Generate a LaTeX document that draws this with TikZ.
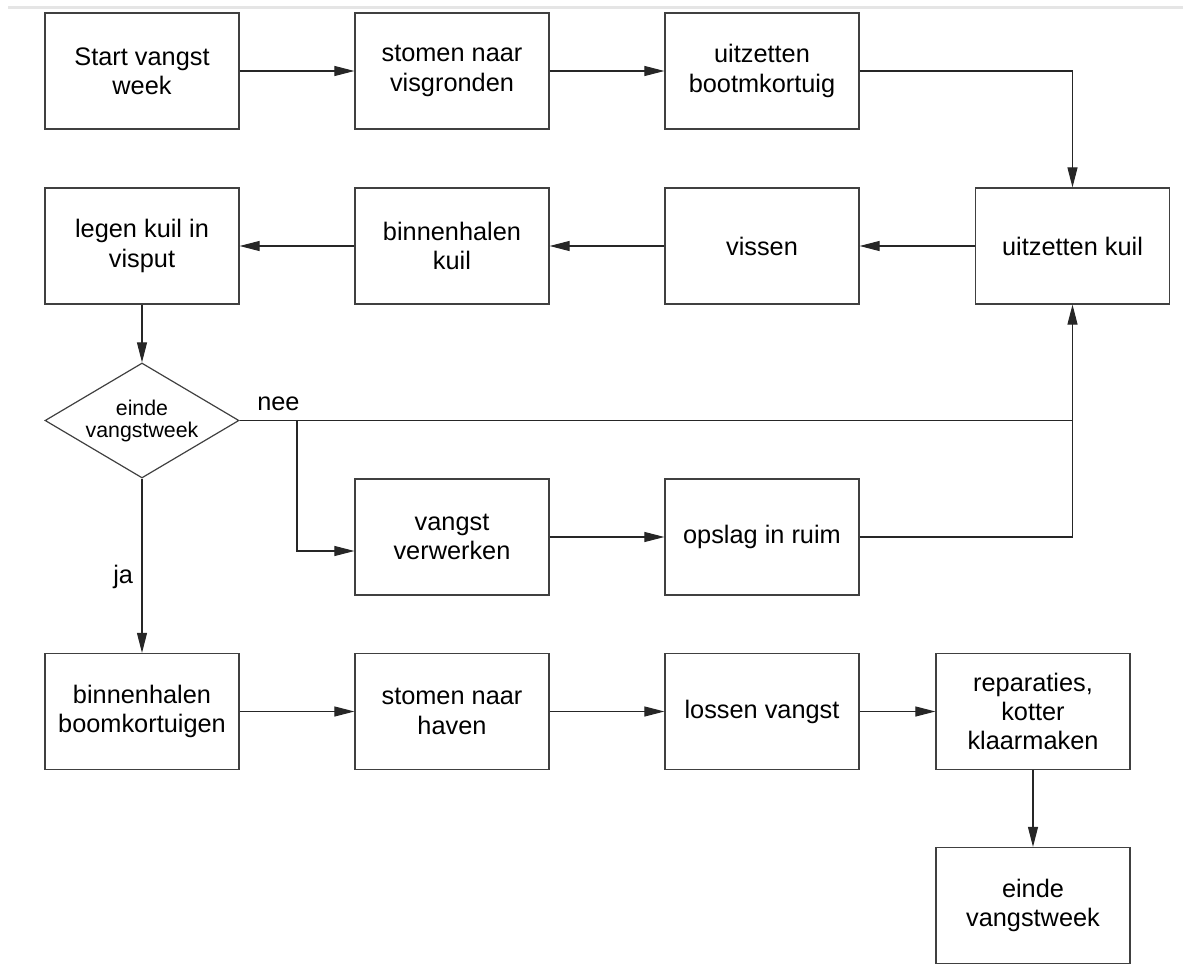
\documentclass[tikz,border=0pt]{standalone}
\usepackage{fontspec}
\setmainfont{Liberation Sans}
\usetikzlibrary{arrows.meta,shapes.geometric,positioning}
\tikzset{
	stap/.style={draw=black!75, line width=0.9pt, rectangle, minimum width=145.5pt, minimum height=87pt, inner sep=0pt, align=center, font=\fontsize{19}{22}\selectfont},
	keuze/.style={draw=black!75, line width=0.9pt, diamond, aspect=1.69, minimum width=145.5pt, minimum height=86.25pt, inner sep=0pt, align=center, font=\fontsize{16}{16.5}\selectfont},
	pijl/.style={draw=black!85, line width=0.8pt, -{Triangle[length=15pt,width=7.5pt]}},
	lijn/.style={draw=black!85, line width=0.8pt},
	bijschrift/.style={inner sep=0pt, font=\fontsize{19}{22}\selectfont},
}

\begin{document}
\begin{tikzpicture}[x=0.75pt, y=-0.75pt]
				%%%%% START %%%%%
				\useasboundingbox (0,0) rectangle (1183,978);
				\draw[black!10, line width=2.25pt] (8,7) -- (1183,7);
				
				\node[stap] (start) at (142,71) {Start vangst\\week};
				\node[stap] (visgr) at (452,71) {stomen naar\\visgronden};
				\node[stap] (bootm) at (762,71) {uitzetten\\bootmkortuig};
				
				\node[stap] (uitkuil) at (1072.5,246) {uitzetten kuil};
				\node[stap] (vissen) at (762,246) {vissen};
				\node[stap] (binkuil) at (452,246) {binnenhalen\\kuil};
				\node[stap] (legen) at (142,246) {legen kuil in\\visput};
				
				\node[keuze] (einde) at (142,420.5) {einde\\vangstweek};
				\coordinate (tak) at (297,420.5);
				\coordinate (knoop) at (uitkuil.south |- einde.east);
				
				\node[stap] (verwerk) at (452,537) {vangst\\verwerken};
				\node[stap] (opslag) at (762,537) {opslag in ruim};
				
				\node[stap] (boom) at (142,711.5) {binnenhalen\\boomkortuigen};
				\node[stap] (haven) at (452,711.5) {stomen naar\\haven};
				\node[stap] (lossen) at (762,711.5) {lossen vangst};
				\node[stap] (repar) at (1033,711.5) {reparaties,\\kotter\\klaarmaken};
				\node[stap] (eindweek) at (1033,905.5) {einde\\vangstweek};
				
				\draw[pijl] (start) -- (visgr);
				\draw[pijl] (visgr) -- (bootm);
				\draw[pijl] (bootm.east) -| (uitkuil.north);
				
				\draw[pijl] (uitkuil) -- (vissen);
				\draw[pijl] (vissen) -- (binkuil);
				\draw[pijl] (binkuil) -- (legen);
				\draw[pijl] (legen) -- (einde);
				
				\draw[pijl] (einde.east) -| (uitkuil.south);
				\node[bijschrift, anchor=base west] (nee) at (257,410) {nee};
				\draw[pijl] (tak) |- ([yshift=-10.5pt]verwerk.west);
				\draw[pijl] (verwerk) -- (opslag);
				\draw[lijn] (opslag.east) -| (knoop);
				
				\draw[pijl] (einde.south) -- (boom.north);
				\node[bijschrift, anchor=base west] (ja) at (113,583) {ja};
				
				\draw[pijl] (boom) -- (haven);
				\draw[pijl] (haven) -- (lossen);
				\draw[pijl] (lossen) -- (repar);
				\draw[pijl] (repar) -- (eindweek);
				%%%%% END %%%%%
\end{tikzpicture}
\end{document}
